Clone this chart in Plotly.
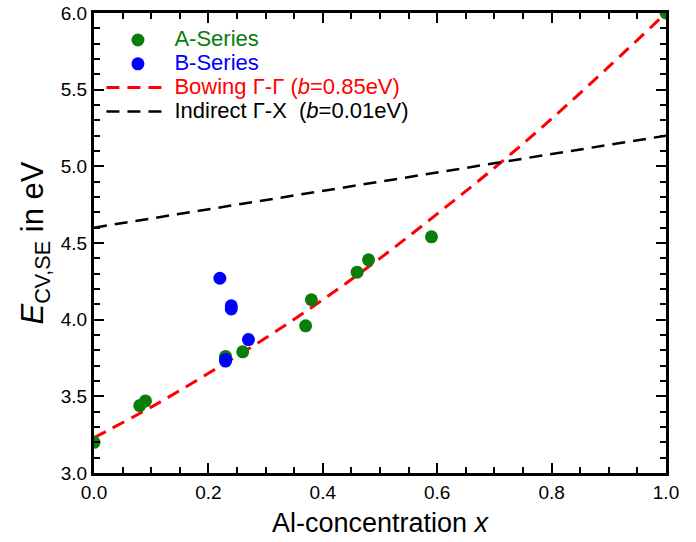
import plotly.graph_objects as go

# A-Series (green)
a_x = [0.0, 0.08, 0.09, 0.23, 0.26, 0.37, 0.38, 0.46, 0.48, 0.59, 1.0]
a_y = [3.20, 3.44, 3.47, 3.76, 3.79, 3.96, 4.13, 4.31, 4.39, 4.54, 6.0]

# B-Series (blue)
b_x = [0.22, 0.24, 0.24, 0.27, 0.23, 0.23]
b_y = [4.27, 4.09, 4.07, 3.87, 3.74, 3.73]

# Bowing Gamma-Gamma curve
bow_x = [0.0, 0.1, 0.2, 0.3, 0.4, 0.5, 0.6, 0.7, 0.8, 0.9, 1.0]
bow_y = [3.23, 3.43, 3.65, 3.88, 4.13, 4.40, 4.69, 4.99, 5.31, 5.65, 6.00]

# Indirect Gamma-X line
ind_x = [0.0, 0.5, 1.0]
ind_y = [4.60, 4.90, 5.20]

FONT = "Liberation Sans, Arial, Helvetica, sans-serif"
GREEN = "#0a7d0a"
BLUE = "#0000ff"
RED = "#ff0000"
BLACK = "#000000"


def leg(text, color):
    return f"<span style='font-size:22px;color:{color}'>{text}</span>"


fig = go.Figure()
fig.add_trace(go.Scatter(x=bow_x, y=bow_y, mode="lines", line_shape="spline",
                         name=leg("Bowing \u0393-\u0393 (<i>b</i>=0.85eV)", RED),
                         legendrank=3,
                         line=dict(color=RED, width=3, dash="13px,8px")))
fig.add_trace(go.Scatter(x=ind_x, y=ind_y, mode="lines",
                         name=leg("Indirect \u0393-X\u00a0 (<i>b</i>=0.01eV)", BLACK),
                         legendrank=4,
                         line=dict(color=BLACK, width=2.5, dash="13px,8px")))
fig.add_trace(go.Scatter(x=a_x, y=a_y, mode="markers", name=leg("A-Series", GREEN),
                         legendrank=1,
                         marker=dict(color=GREEN, size=13)))
fig.add_trace(go.Scatter(x=b_x, y=b_y, mode="markers", name=leg("B-Series", BLUE),
                         legendrank=2,
                         marker=dict(color=BLUE, size=13)))

axis_common = dict(
    showline=True, linewidth=3, linecolor="black", mirror="ticks",
    ticks="inside", ticklen=10, tickwidth=2, tickcolor="black",
    showgrid=False, zeroline=False, automargin=False,
    tickfont=dict(family=FONT, size=19, color="black"),
)

fig.update_xaxes(range=[0, 1.0], dtick=0.2, tickformat=".1f",
                 minor=dict(dtick=0.05, ticks="inside", ticklen=6, tickwidth=2, tickcolor="black"),
                 title=dict(text="Al-concentration <i>x</i>",
                            font=dict(family=FONT, size=27, color="black"), standoff=12),
                 **axis_common)
fig.update_yaxes(range=[3.0, 6.0], dtick=0.5, tickformat=".1f",
                 minor=dict(dtick=0.1, ticks="inside", ticklen=6, tickwidth=2, tickcolor="black"),
                 title=dict(text="<i>E</i><sub>CV,SE</sub> in eV",
                            font=dict(family=FONT, size=31, color="black"), standoff=8),
                 **axis_common)

fig.update_layout(
    width=696, height=542,
    margin=dict(l=94, r=30, t=13, b=69),
    plot_bgcolor="white", paper_bgcolor="white",
    font=dict(family=FONT, size=18, color="black"),
    legend=dict(x=0.013, y=0.978, xanchor="left", yanchor="top",
                bgcolor="rgba(0,0,0,0)", itemwidth=63,
                traceorder="normal",
                font=dict(family=FONT, size=16)),
    showlegend=True,
)

fig.write_html("out.html")
